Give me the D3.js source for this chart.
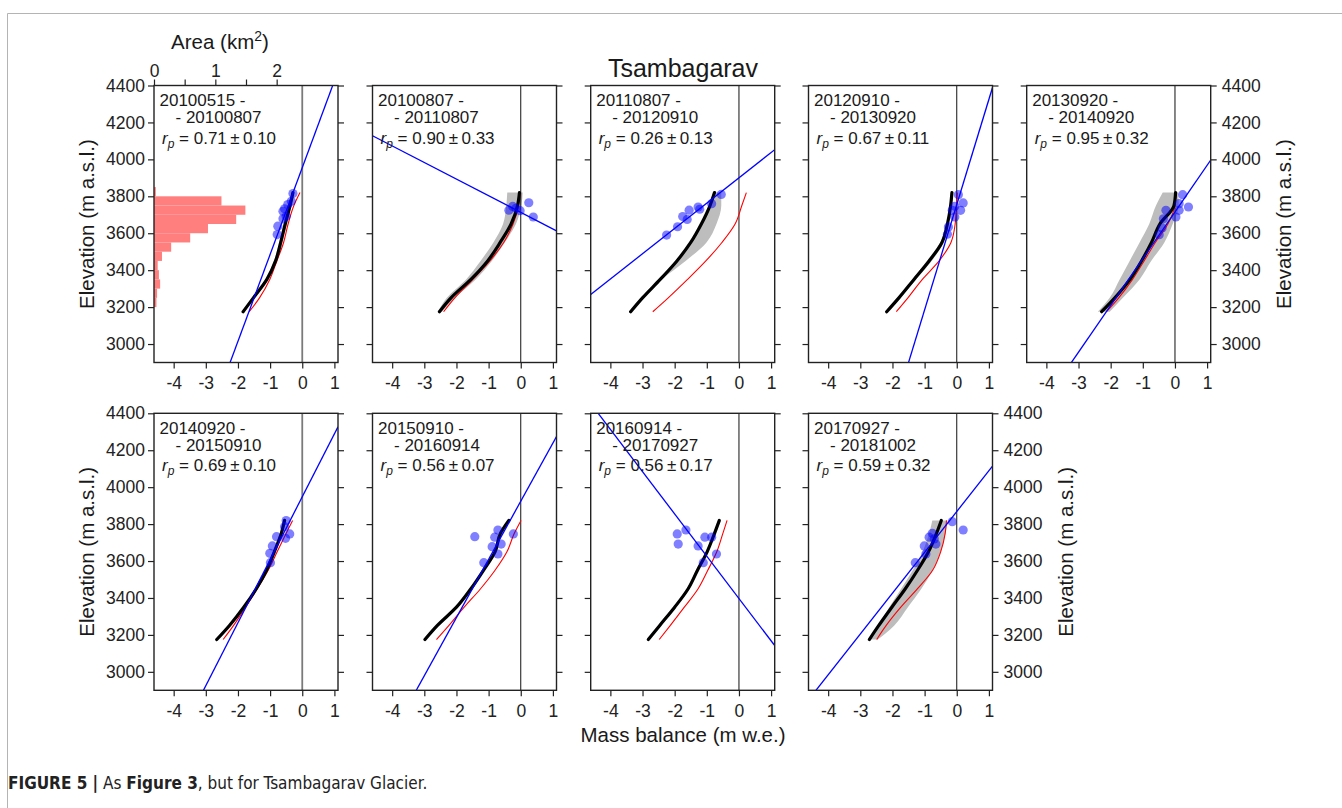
<!DOCTYPE html>
<html>
<head>
<meta charset="utf-8">
<script src="https://cdn.jsdelivr.net/npm/d3@7"></script>
<style>
  body { margin: 0; background: #fff; }
  svg { display: block; font-family: "Liberation Sans", Arial, sans-serif; }
  .caption { font-family: "Liberation Sans Narrow", "DejaVu Sans Condensed", "Liberation Sans", sans-serif; }
</style>
</head>
<body>
<script>
// ---- data ----
const periodStart = ["20100515", "20100807", "20110807", "20120910", "20130920", "20140920", "20150910", "20160914", "20170927"];
const periodEnd   = ["20100807", "20110807", "20120910", "20130920", "20140920", "20150910", "20160914", "20170927", "20181002"];
const rpVal = ["0.71", "0.90", "0.26", "0.67", "0.95", "0.69", "0.56", "0.56", "0.59"];
const rpErr = ["0.10", "0.33", "0.13", "0.11", "0.32", "0.10", "0.07", "0.17", "0.32"];

// elevation levels (m a.s.l.) where the profiles were read
const elev = [3175, 3250, 3350, 3450, 3550, 3650, 3750, 3820];

// modelled profile (black)
const modelMB = [
  [-1.84, -1.52, -1.10, -0.83, -0.67, -0.53, -0.38, -0.29],
  [-2.53, -2.17, -1.55, -1.03, -0.64, -0.30, -0.10, -0.04],
  [-3.37, -3.00, -2.45, -1.93, -1.50, -1.17, -0.90, -0.76],
  [-2.18, -1.80, -1.33, -0.86, -0.46, -0.29, -0.19, -0.15],
  [-2.28, -1.87, -1.40, -1.04, -0.73, -0.47, -0.03, 0.02],
  [-2.66, -2.27, -1.82, -1.43, -1.11, -0.87, -0.65, -0.55],
  [-2.98, -2.60, -2.00, -1.55, -1.16, -0.80, -0.63, -0.37],
  [-2.82, -2.47, -2.00, -1.58, -1.29, -0.99, -0.76, -0.61],
  [-2.72, -2.43, -2.02, -1.60, -1.22, -0.88, -0.63, -0.48]
];
// uncertainty band (grey), lower / upper edge
const bandLo = [
  [-1.88, -1.56, -1.14, -0.88, -0.72, -0.58, -0.43, -0.33],
  [-2.58, -2.30, -1.70, -1.25, -0.85, -0.55, -0.45, -0.42],
  [-3.40, -3.03, -2.48, -1.97, -1.53, -1.20, -0.93, -0.80],
  [-2.21, -1.84, -1.38, -0.93, -0.51, -0.32, -0.22, -0.18],
  [-2.40, -2.03, -1.72, -1.41, -1.10, -0.80, -0.59, -0.38],
  [-2.69, -2.31, -1.86, -1.47, -1.15, -0.91, -0.69, -0.59],
  [-3.01, -2.64, -2.04, -1.59, -1.20, -0.84, -0.67, -0.41],
  [-2.85, -2.51, -2.04, -1.62, -1.33, -1.03, -0.80, -0.65],
  [-2.77, -2.45, -2.10, -1.73, -1.37, -1.06, -0.86, -0.76]
];
const bandHi = [
  [-1.80, -1.48, -1.06, -0.79, -0.62, -0.48, -0.33, -0.25],
  [-2.45, -2.05, -1.40, -0.90, -0.50, -0.15, 0.02, 0.06],
  [-3.34, -2.97, -2.40, -1.66, -1.01, -0.70, -0.55, -0.55],
  [-2.15, -1.76, -1.27, -0.78, -0.41, -0.26, -0.16, -0.12],
  [-2.03, -1.62, -1.10, -0.74, -0.33, -0.07, 0.12, 0.10],
  [-2.63, -2.23, -1.78, -1.39, -1.07, -0.83, -0.61, -0.51],
  [-2.95, -2.56, -1.96, -1.51, -1.12, -0.76, -0.59, -0.33],
  [-2.79, -2.43, -1.96, -1.54, -1.25, -0.95, -0.72, -0.57],
  [-2.46, -1.95, -1.52, -1.10, -0.75, -0.50, -0.35, -0.29]
];
// red profile
const refMB = [
  [-1.65, -1.33, -1.01, -0.79, -0.58, -0.44, -0.26, -0.07],
  [-2.40, -2.05, -1.49, -0.96, -0.53, -0.24, -0.07, -0.02],
  [-2.68, -2.20, -1.60, -1.03, -0.53, -0.12, 0.09, 0.23],
  [-1.88, -1.52, -1.07, -0.55, -0.18, -0.05, -0.01, 0.02],
  [-2.13, -1.75, -1.32, -0.96, -0.61, -0.22, 0.00, 0.03],
  [-2.46, -2.14, -1.76, -1.40, -1.06, -0.78, -0.50, -0.30],
  [-2.62, -2.24, -1.76, -1.25, -0.80, -0.43, -0.20, 0.01],
  [-2.48, -2.14, -1.70, -1.27, -0.97, -0.69, -0.50, -0.37],
  [-2.49, -2.20, -1.74, -1.22, -0.75, -0.50, -0.36, -0.32]
];
// blue regression line: elevation at 0 m w.e. and gradient (m per m w.e.)
const fitZ0 = [3955, 3713, 3900, 3755, 3715, 3948, 3924, 3397, 3868];
const fitSlope = [470, -90, 137, 570, 253, 341, 315, -229, 221];

// stake points
const stakeMB = [
  [-0.29, -0.34, -0.45, -0.55, -0.60, -0.50, -0.60, -0.76, -0.78],
  [-0.37, -0.25, -0.15, -0.02, 0.25, 0.39],
  [-2.25, -1.91, -1.75, -1.61, -1.55, -1.27, -1.22, -0.85, -0.55],
  [0.05, 0.20, -0.14, -0.06, 0.12, -0.06, -0.26, -0.29],
  [0.24, 0.42, 0.13, 0.03, -0.28, -0.36, -0.40, -0.49, 0.13],
  [-0.50, -0.55, -0.39, -0.52, -0.80, -0.93, -1.01, -0.99],
  [-1.43, -0.71, -0.81, -0.89, -0.61, -0.23, -0.71, -1.15],
  [-1.92, -1.65, -1.89, -1.27, -1.06, -0.85, -0.70, -1.11],
  [-0.14, 0.20, -0.76, -0.86, -0.65, -1.01, -0.96, -1.29, -0.70]
];
const stakeZ = [
  [3815, 3773, 3755, 3732, 3719, 3692, 3678, 3638, 3593],
  [3725, 3745, 3735, 3722, 3765, 3688],
  [3590, 3635, 3690, 3675, 3725, 3742, 3730, 3760, 3810],
  [3809, 3764, 3724, 3746, 3724, 3688, 3634, 3595],
  [3809, 3742, 3724, 3688, 3724, 3678, 3629, 3592, 3760],
  [3819, 3786, 3747, 3723, 3732, 3682, 3642, 3591],
  [3732, 3768, 3729, 3678, 3692, 3747, 3638, 3591],
  [3747, 3768, 3692, 3682, 3729, 3729, 3638, 3591],
  [3813, 3768, 3750, 3729, 3692, 3682, 3638, 3591, 3720]
];
const greyZero = [true, false, false, false, true, true, false, false, false];

// glacier hypsometry (first panel), 50 m bins
const binLow = [3200, 3250, 3300, 3350, 3400, 3450, 3500, 3550, 3600, 3650, 3700, 3750, 3800];
const binArea = [0.04, 0.05, 0.10, 0.08, 0.06, 0.13, 0.28, 0.59, 0.88, 1.34, 1.49, 1.10, 0.03];

const xTicks = [-4, -3, -2, -1, 0, 1];
const yTicks = [3000, 3200, 3400, 3600, 3800, 4000, 4200, 4400];
const areaTicks = [0, 0.5, 1, 1.5, 2];

// ---- layout ----
const W = 1342, H = 808;
const panelW = 184, panelH = 277;
const colLeft = [154, 372.5, 590.7, 808.5, 1026.7];
const rowTop = [85.5, 413.3];
const tickFont = 17.5;

const svg = d3.select("body").append("svg")
  .attr("width", W)
  .attr("height", H);

// figure frame
svg.append("path")
  .attr("d", `M7.5,${H} V13.5 H${W}`)
  .attr("fill", "none")
  .attr("stroke", "#b4b4b4")
  .attr("stroke-width", 1);

const x = d3.scaleLinear().domain([-4.612, 1.112]).range([0, panelW]);
const y = d3.scaleLinear().domain([2900, 4400]).range([panelH, 0]);
const areaX = d3.scaleLinear().domain([0, 3]).range([0, panelW]);
const plain = d => String(d);   // "-4", "4400" (no comma, hyphen minus)

const profile = (vals) => d3.line()
  .x((d, i) => x(vals[i]))
  .y(d => y(d))
  .curve(d3.curveMonotoneY)(elev);

const bandArea = (lo, hi) => d3.area()
  .y(d => y(d))
  .x0((d, i) => x(lo[i]))
  .x1((d, i) => x(hi[i]))
  .curve(d3.curveMonotoneY)(elev);

function styleAxis(ax, labels) {
  ax.select(".domain").remove();
  ax.selectAll(".tick line").attr("stroke", "#222").attr("stroke-width", 1.2);
  ax.selectAll(".tick text")
    .attr("fill", "#222")
    .style("font-size", tickFont + "px")
    .style("font-family", "Liberation Sans, Arial, sans-serif");
  if (!labels) ax.selectAll(".tick text").remove();
}

periodStart.forEach((p, i) => {
  const col = i % 5, row = Math.floor(i / 5);
  const g = svg.append("g")
    .attr("transform", `translate(${colLeft[col]},${rowTop[row]})`);

  g.append("clipPath").attr("id", "clip" + i)
    .append("rect").attr("width", panelW).attr("height", panelH);
  const inner = g.append("g").attr("clip-path", `url(#clip${i})`);

  // hypsometry bars only in the first panel
  if (i === 0) {
    inner.selectAll(".bar")
      .data(binLow)
      .enter()
      .append("rect")
      .attr("class", "bar")
      .attr("x", 0)
      .attr("y", d => y(d + 50))
      .attr("width", (d, k) => areaX(binArea[k]))
      .attr("height", d => y(d) - y(d + 50))
      .attr("fill", "#ff7f7f");
  }

  // grey band
  inner.append("path")
    .attr("d", bandArea(bandLo[i], bandHi[i]))
    .attr("fill", "#bdbdbd");

  // zero line
  inner.append("line")
    .attr("x1", x(0)).attr("x2", x(0))
    .attr("y1", 0).attr("y2", panelH)
    .attr("stroke", greyZero[i] ? "#7a7a7a" : "#111")
    .attr("stroke-width", greyZero[i] ? 1.8 : 1);

  // red and black profiles
  inner.append("path")
    .attr("d", profile(refMB[i]))
    .attr("fill", "none")
    .attr("stroke", "#ff0000")
    .attr("stroke-width", 1.1);
  inner.append("path")
    .attr("d", profile(modelMB[i]))
    .attr("fill", "none")
    .attr("stroke", "#000")
    .attr("stroke-width", 3.2)
    .attr("stroke-linecap", "round");

  // stakes
  inner.selectAll(".stake")
    .data(stakeMB[i])
    .enter()
    .append("circle")
    .attr("class", "stake")
    .attr("cx", d => x(d))
    .attr("cy", (d, k) => y(stakeZ[i][k]))
    .attr("r", 4.6)
    .attr("fill", "#0000ff")
    .attr("fill-opacity", 0.5);

  // regression line
  const xd = x.domain();
  inner.append("line")
    .attr("x1", x(xd[0])).attr("y1", y(fitZ0[i] + fitSlope[i] * xd[0]))
    .attr("x2", x(xd[1])).attr("y2", y(fitZ0[i] + fitSlope[i] * xd[1]))
    .attr("stroke", "#0000ff")
    .attr("stroke-width", 1.3);

  // period + correlation labels
  const lab = g.append("g").attr("fill", "#1a1a1a").style("font-size", "17px");
  lab.append("text").attr("x", 5.5).attr("y", 20.5).text(periodStart[i] + " -");
  lab.append("text").attr("x", 21.5).attr("y", 37.5).text("- " + periodEnd[i]);
  const rt = lab.append("text").attr("x", 8).attr("y", 58);
  rt.append("tspan").style("font-style", "italic").text("r");
  rt.append("tspan").style("font-style", "italic").style("font-size", "12px").attr("dy", 4).text("p");
  rt.append("tspan").attr("dy", -4).text(" = " + rpVal[i] + "\u2009\u00b1\u2009" + rpErr[i]);

  // axes
  const bx = g.append("g").attr("transform", `translate(0,${panelH})`)
    .call(d3.axisBottom(x).tickValues(xTicks).tickFormat(plain).tickSize(6).tickPadding(8).tickSizeOuter(0));
  styleAxis(bx, true);

  const ly = g.append("g")
    .call(d3.axisLeft(y).tickValues(yTicks).tickFormat(plain).tickSize(6).tickPadding(3).tickSizeOuter(0));
  styleAxis(ly, col === 0);

  const ry = g.append("g").attr("transform", `translate(${panelW},0)`)
    .call(d3.axisRight(y).tickValues(yTicks).tickFormat(plain).tickSize(6).tickPadding(5).tickSizeOuter(0));
  styleAxis(ry, col === 4 || i === periodStart.length - 1);

  if (i === 0) {
    const tx = g.append("g")
      .call(d3.axisTop(areaX).tickValues(areaTicks).tickSize(6).tickPadding(3).tickSizeOuter(0)
        .tickFormat(d => Number.isInteger(d) ? plain(d) : ""));
    styleAxis(tx, true);
    const at = g.append("text")
      .attr("x", 66).attr("y", -37)
      .attr("text-anchor", "middle")
      .attr("fill", "#1a1a1a")
      .style("font-size", "20.5px");
    at.append("tspan").text("Area (km");
    at.append("tspan").attr("dy", -8).style("font-size", "14px").text("2");
    at.append("tspan").attr("dy", 8).text(")");
  }

  // panel frame
  g.append("rect")
    .attr("width", panelW).attr("height", panelH)
    .attr("fill", "none")
    .attr("stroke", "#222")
    .attr("stroke-width", 1.4);
});

// titles
svg.append("text")
  .attr("x", 683).attr("y", 77)
  .attr("text-anchor", "middle")
  .attr("fill", "#1a1a1a")
  .style("font-size", "25px")
  .text("Tsambagarav");

svg.append("text")
  .attr("x", 683).attr("y", 742)
  .attr("text-anchor", "middle")
  .attr("fill", "#1a1a1a")
  .style("font-size", "20.5px")
  .text("Mass balance (m w.e.)");

// left labels on both rows, right labels next to the last panel of each row
const elevLabels = [[94, rowTop[0] + panelH / 2], [94, rowTop[1] + panelH / 2],
                    [1291, rowTop[0] + panelH / 2], [1073, rowTop[1] + panelH / 2]];
elevLabels.forEach(d => {
  svg.append("text")
    .attr("transform", `translate(${d[0]},${d[1]}) rotate(-90)`)
    .attr("text-anchor", "middle")
    .attr("fill", "#1a1a1a")
    .style("font-size", "20.5px")
    .text("Elevation (m a.s.l.)");
});

// caption
const cap = svg.append("text")
  .attr("class", "caption")
  .attr("x", 8).attr("y", 789)
  .attr("fill", "#222")
  .style("font-size", "17px");
cap.append("tspan").style("font-weight", "bold").text("FIGURE 5 |");
cap.append("tspan").text(" As ");
cap.append("tspan").style("font-weight", "bold").text("Figure 3");
cap.append("tspan").text(", but for Tsambagarav Glacier.");
</script>
</body>
</html>
